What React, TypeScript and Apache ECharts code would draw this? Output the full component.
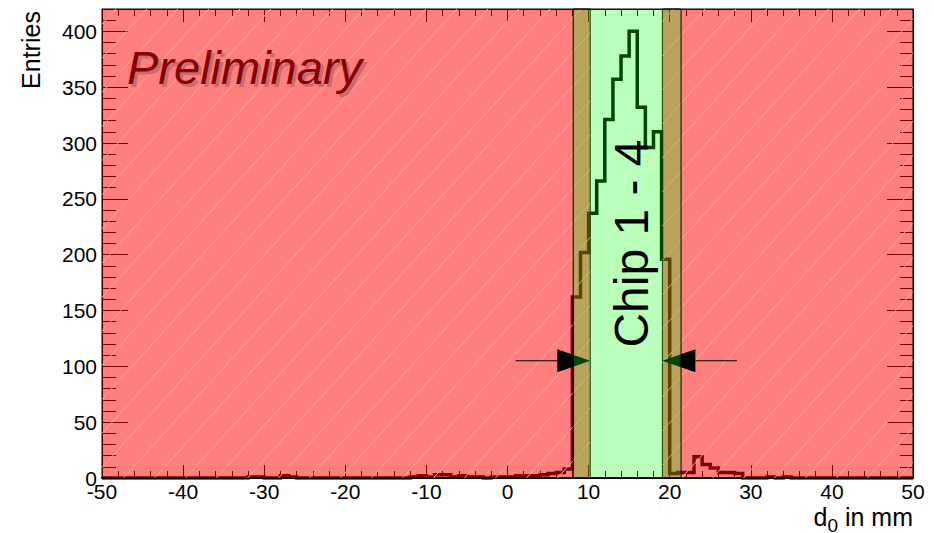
import React, { useEffect, useRef } from "react";
import * as echarts from "echarts";

// ---- data ----
const X_MIN = -50;
const X_MAX = 50;
const Y_MIN = 0;
const Y_MAX = 420;
const X_INTERVAL = 10;
const Y_INTERVAL = 50;
const BIN_START = -50;
const BIN_WIDTH = 1;

// entries per 1 mm bin, from -50 mm to +50 mm
const counts = [
  0, 0, 0, 0, 0, 0, 0, 0, 0, 0, // -50 .. -41
  0, 0, 0, 0, 0, 0, 0, 0, 1, 1, // -40 .. -31
  0, 0, 2, 1, 0, 0, 0, 0, 0, 0, // -30 .. -21
  0, 0, 0, 0, 0, 0, 0, 0, 1, 2, // -20 .. -11
  1, 3, 3, 1, 2, 1, 1, 0, 1, 1, // -10 .. -1
  1, 2, 2, 2, 3, 4, 5, 8, 162, 202, // 0 .. 9
  237, 266, 321, 357, 378, 400, 332, 296, 310, 196, // 10 .. 19
  4, 5, 5, 19, 12, 9, 5, 5, 4, 0, // 20 .. 29
  0, 0, 1, 0, 1, 0, 0, 0, 0, 0, // 30 .. 39
  0, 0, 0, 0, 0, 0, 0, 0, 0, 0, // 40 .. 49
];

// regions in mm: [from, to]
const redRegions = [
  [-50, 10.2],
  [19.1, 50],
];
const greenRegions = [[8.1, 21.4]];
// arrows: [from mm, to mm, height in entries]
const arrows = [
  [1.0, 10.2, 105],
  [28.3, 19.1, 105],
];
const chipLabel = "Chip 1 - 4";
const chipLabelPos = [15.3, 210];
const prelimText = "Preliminary";
const yTitle = "Entries";

const FONT = '"Liberation Sans", Arial, Helvetica, sans-serif';

export default function App() {
  const ref = useRef<HTMLDivElement>(null);

  useEffect(() => {
    if (!ref.current) return;
    const chart = echarts.init(ref.current, null, { renderer: "svg" });

    const histData: number[][] = counts.map((v, i) => [BIN_START + i * BIN_WIDTH, v]);
    histData.push([BIN_START + counts.length * BIN_WIDTH, counts[counts.length - 1]]);

    const HATCH_SLOPE = 1.1;
    const HATCH_SPACING = 31;

    const regionRender = (fill: string, hatch: boolean) => (params: any, api: any) => {
      const a = api.coord([api.value(0), Y_MIN]);
      const b = api.coord([api.value(1), api.value(2)]);
      const x0 = Math.min(a[0], b[0]);
      const x1 = Math.max(a[0], b[0]);
      const yTop = Math.min(a[1], b[1]);
      const yBot = Math.max(a[1], b[1]);
      const children: any[] = [
        {
          type: "rect",
          shape: { x: x0, y: yTop, width: x1 - x0, height: yBot - yTop },
          style: { fill, stroke: "#000", lineWidth: 1 },
        },
      ];
      if (hatch) {
        const m = HATCH_SLOPE;
        const cStart = Math.floor((x0 + yTop / m) / HATCH_SPACING) * HATCH_SPACING;
        const cEnd = x1 + yBot / m;
        for (let c = cStart; c <= cEnd; c += HATCH_SPACING) {
          const ya = Math.max(yTop, (c - x1) * m);
          const yb = Math.min(yBot, (c - x0) * m);
          if (yb - ya > 0.5) {
            children.push({
              type: "line",
              shape: { x1: c - ya / m, y1: ya, x2: c - yb / m, y2: yb },
              style: { stroke: "#ffa98a", lineWidth: 1 },
            });
          }
        }
      }
      return { type: "group", children };
    };

    const arrowRender = (params: any, api: any) => {
      const p0 = api.coord([api.value(0), api.value(2)]);
      const p1 = api.coord([api.value(1), api.value(2)]);
      const d = p1[0] > p0[0] ? 1 : -1;
      const HL = 33;
      const HW = 11.5;
      const y = p1[1];
      return {
        type: "group",
        children: [
          {
            type: "line",
            shape: { x1: p0[0], y1: y, x2: p1[0] - d * HL, y2: y },
            style: { stroke: "#000", lineWidth: 1 },
          },
          {
            type: "polygon",
            shape: {
              points: [
                [p1[0], y],
                [p1[0] - d * HL, y - HW],
                [p1[0] - d * HL, y + HW],
              ],
            },
            style: { fill: "#000" },
          },
        ],
      };
    };

    const tickStyle = { color: "#000", width: 1 };

    const option: any = {
      animation: false,
      backgroundColor: "#fff",
      grid: { left: 102, right: 21, top: 9, bottom: 55, containLabel: false, outerBoundsMode: "none" },
      xAxis: [
        {
          type: "value",
          position: "bottom",
          min: X_MIN,
          max: X_MAX,
          interval: X_INTERVAL,
          z: 0,
          axisLine: { onZero: false, lineStyle: { color: "#000", width: 2 } },
          axisTick: { inside: true, length: 13, lineStyle: tickStyle },
          minorTick: { show: true, splitNumber: 5, length: 7, lineStyle: tickStyle },
          axisLabel: { color: "#000", fontSize: 21, fontFamily: FONT, margin: 3 },
          splitLine: { show: false },
        },
        {
          type: "value",
          position: "top",
          min: X_MIN,
          max: X_MAX,
          interval: X_INTERVAL,
          z: 0,
          axisLine: { onZero: false, lineStyle: { color: "#000", width: 1 } },
          axisTick: { inside: true, length: 13, lineStyle: tickStyle },
          minorTick: { show: true, splitNumber: 5, length: 7, lineStyle: tickStyle },
          axisLabel: { show: false },
          splitLine: { show: false },
        },
      ],
      yAxis: [
        {
          type: "value",
          position: "left",
          min: Y_MIN,
          max: Y_MAX,
          interval: Y_INTERVAL,
          z: 0,
          axisLine: { onZero: false, lineStyle: { color: "#000", width: 1 } },
          axisTick: { inside: true, length: 26, lineStyle: tickStyle },
          axisLabel: { color: "#000", fontSize: 21, fontFamily: FONT, margin: 5, showMaxLabel: false },
          splitLine: { show: false },
        },
        {
          type: "value",
          position: "left",
          min: Y_MIN,
          max: Y_MAX,
          interval: Y_INTERVAL / 5,
          z: 0,
          axisLine: { show: false, onZero: false },
          axisTick: { inside: true, length: 14, lineStyle: tickStyle },
          axisLabel: { show: false },
          splitLine: { show: false },
        },
        {
          type: "value",
          position: "right",
          min: Y_MIN,
          max: Y_MAX,
          interval: Y_INTERVAL,
          z: 0,
          axisLine: { onZero: false, lineStyle: { color: "#000", width: 1 } },
          axisTick: { inside: true, length: 26, lineStyle: tickStyle },
          axisLabel: { show: false },
          splitLine: { show: false },
        },
        {
          type: "value",
          position: "right",
          min: Y_MIN,
          max: Y_MAX,
          interval: Y_INTERVAL / 5,
          z: 0,
          axisLine: { show: false, onZero: false },
          axisTick: { inside: true, length: 13, lineStyle: tickStyle },
          axisLabel: { show: false },
          splitLine: { show: false },
        },
      ],
      series: [
        {
          type: "line",
          name: "d0",
          xAxisIndex: 0,
          yAxisIndex: 0,
          z: 1,
          step: "end",
          data: histData,
          showSymbol: false,
          symbol: "none",
          silent: true,
          lineStyle: { color: "#000", width: 3.5, join: "miter", cap: "butt" },
        },
        {
          type: "custom",
          xAxisIndex: 0,
          yAxisIndex: 0,
          z: 2,
          silent: true,
          encode: { x: [0, 1], y: 2 },
          data: redRegions.map((r) => [r[0], r[1], Y_MAX]),
          renderItem: regionRender("rgba(255,0,0,0.5)", true),
        },
        {
          type: "custom",
          xAxisIndex: 0,
          yAxisIndex: 0,
          z: 3,
          silent: true,
          encode: { x: [0, 1], y: 2 },
          data: arrows,
          renderItem: arrowRender,
        },
        {
          type: "custom",
          xAxisIndex: 0,
          yAxisIndex: 0,
          z: 4,
          silent: true,
          encode: { x: [0, 1], y: 2 },
          data: greenRegions.map((r) => [r[0], r[1], Y_MAX]),
          renderItem: regionRender("rgba(0,255,0,0.27)", false),
        },
        {
          type: "custom",
          xAxisIndex: 0,
          yAxisIndex: 0,
          z: 6,
          silent: true,
          encode: { x: 0, y: 1 },
          data: [chipLabelPos],
          renderItem: (params: any, api: any) => {
            const p = api.coord([api.value(0), api.value(1)]);
            return {
              type: "text",
              x: p[0],
              y: p[1],
              rotation: Math.PI / 2,
              style: {
                text: chipLabel,
                font: `48px ${FONT}`,
                fill: "#000",
                align: "center",
                verticalAlign: "middle",
              },
            };
          },
        },
      ],
      graphic: [
        {
          type: "text",
          z: 100,
          x: 130,
          y: 70,
          silent: true,
          style: {
            text: prelimText,
            font: `italic 47px ${FONT}`,
            fill: "#cc6a6a",
            align: "left",
            verticalAlign: "middle",
          },
        },
        {
          type: "text",
          z: 101,
          x: 127,
          y: 67,
          silent: true,
          style: {
            text: prelimText,
            font: `italic 47px ${FONT}`,
            fill: "#850000",
            align: "left",
            verticalAlign: "middle",
          },
        },
        {
          type: "text",
          z: 100,
          x: 31,
          y: 50,
          rotation: Math.PI / 2,
          silent: true,
          style: {
            text: yTitle,
            font: `25px ${FONT}`,
            fill: "#000",
            align: "center",
            verticalAlign: "middle",
          },
        },
        {
          type: "text",
          z: 100,
          x: 913,
          y: 517,
          silent: true,
          style: {
            text: "{n|d}{s|0}{n| in mm}",
            align: "right",
            verticalAlign: "middle",
            fill: "#000",
            rich: {
              n: { fontSize: 25, fontFamily: FONT, fill: "#000" },
              s: { fontSize: 19, fontFamily: FONT, fill: "#000", padding: [16, 0, 0, 0] },
            },
          },
        },
      ],
    };

    chart.setOption(option);
    return () => chart.dispose();
  }, []);

  return (
    <div
      ref={ref}
      style={{ position: "absolute", left: 0, top: 0, width: 934, height: 533, background: "#fff" }}
    />
  );
}
